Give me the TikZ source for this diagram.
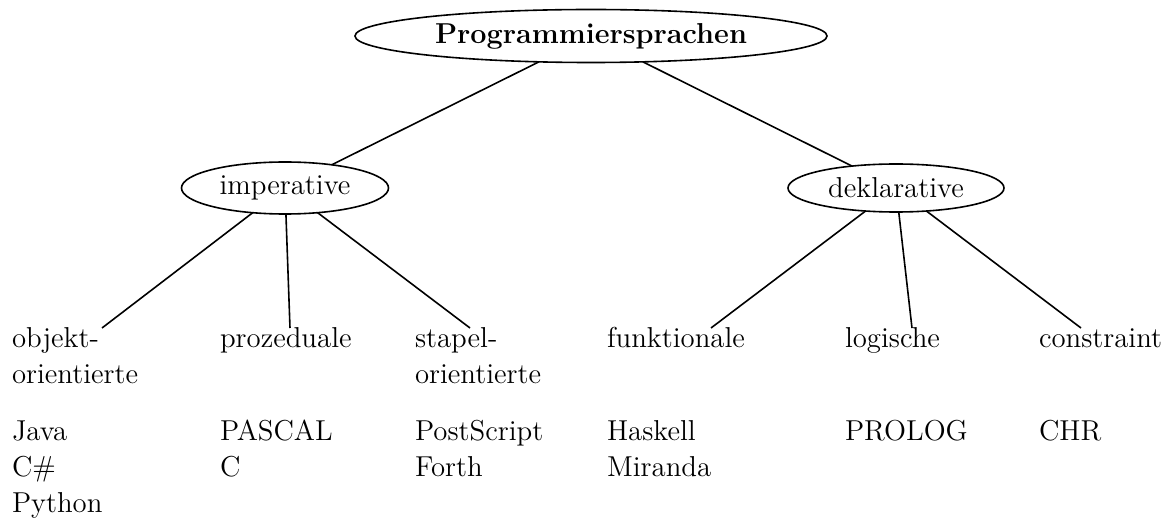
\documentclass[tikz,border=0pt]{standalone}
\usetikzlibrary{shapes.geometric}
\begin{document}
\begin{tikzpicture}[x=0.5pt,y=-0.5pt,
  every node/.style={inner sep=0pt,outer sep=0pt,font=\fontsize{14.4}{18}\selectfont},
  oval/.style={draw,ellipse,line width=0.8pt},
  leaf/.style={anchor=base west},
  edge/.style={line width=0.8pt}]
\useasboundingbox (0,0) rectangle (1168,518);
\node[oval,minimum width=236pt,minimum height=26.5pt,font=\fontsize{14.4}{18}\selectfont\bfseries] (root) at (591,36) {Programmiersprachen};
\node[oval,minimum width=103.5pt,minimum height=26pt] (imp) at (285,188) {imperative};
\node[oval,minimum width=108pt,minimum height=24pt] (dek) at (896,188) {deklarative};
% category labels
\node[leaf] (obj) at (12,348) {objekt-};
\node[leaf] (obj2) at (12,384) {orientierte};
\node[leaf] (proz) at (220,348) {prozeduale};
\node[leaf] (stap) at (415,348) {stapel-};
\node[leaf] (stap2) at (415,384) {orientierte};
\node[leaf] (funk) at (607,348) {funktionale};
\node[leaf] (logi) at (845,348) {logische};
\node[leaf] (cons) at (1039,348) {constraint};
% languages
\node[leaf] (java) at (12,440) {Java};
\node[leaf] (csharp) at (12,476) {C\#};
\node[leaf] (python) at (12,512) {Python};
\node[leaf] (pascal) at (220,440) {PASCAL};
\node[leaf] (c) at (220,476) {C};
\node[leaf] (ps) at (415,440) {PostScript};
\node[leaf] (forth) at (415,476) {Forth};
\node[leaf] (haskell) at (607,440) {Haskell};
\node[leaf] (miranda) at (607,476) {Miranda};
\node[leaf] (prolog) at (845,440) {PROLOG};
\node[leaf] (chr) at (1039,440) {CHR};
% connector ends
\coordinate (objT) at (102,328);
\coordinate (prozT) at (290,328);
\coordinate (stapT) at (470,328);
\coordinate (funkT) at (711,328);
\coordinate (logiT) at (912,328);
\coordinate (consT) at (1081,328);
\draw[edge] (root) -- (imp);
\draw[edge] (root) -- (dek);
\draw[edge] (imp) -- (objT);
\draw[edge] (imp) -- (prozT);
\draw[edge] (imp) -- (stapT);
\draw[edge] (dek) -- (funkT);
\draw[edge] (dek) -- (logiT);
\draw[edge] (dek) -- (consT);
\end{tikzpicture}
\end{document}
